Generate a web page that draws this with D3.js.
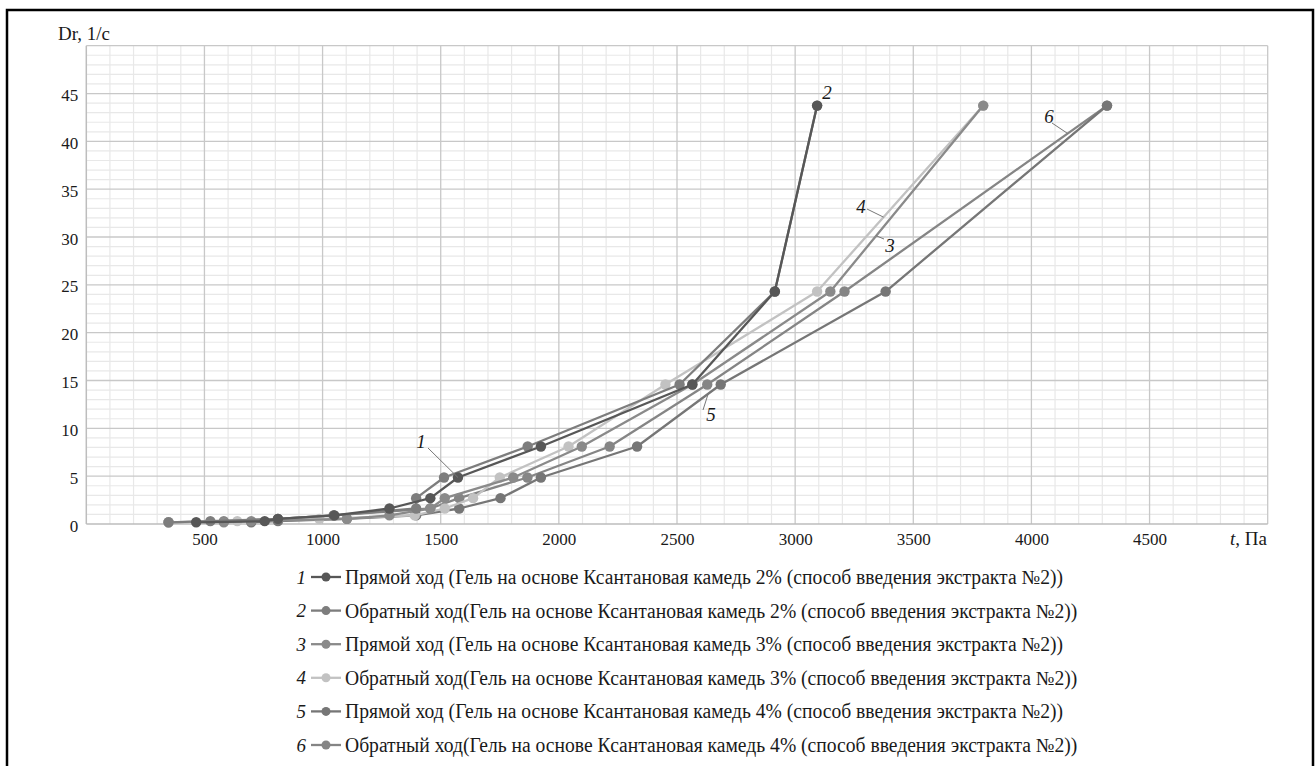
<!DOCTYPE html>
<html><head><meta charset="utf-8">
<script src="https://cdn.jsdelivr.net/npm/d3@7"></script>
<style>body{margin:0;background:#fff} svg{display:block} svg text{font-family:"Liberation Serif","Times New Roman",Times,serif}</style>
</head><body><svg id="c" width="1315" height="766"></svg>
<script>
// ---- data ----
const shearRates = [0.18, 0.3, 0.54, 0.9, 1.62, 2.7, 4.86, 8.1, 14.58, 24.3, 43.74];
const stress1 = [465, 755, 811, 1050, 1283, 1456, 1573, 1924, 2565, 2914, 3093];
const stress2 = [348, 525, 811, 1047, 1396, 1396, 1514, 1868, 2511, 2914, 3093];
const stress3 = [582, 698, 1103, 1283, 1456, 1517, 1807, 2097, 2565, 3149, 3796];
const stress4 = [348, 639, 986, 1390, 1517, 1637, 1750, 2041, 2451, 3093, 3796];
const stress5 = [698, 811, 1103, 1396, 1578, 1753, 1924, 2331, 2685, 3383, 4320];
const stress6 = [348, 582, 811, 1047, 1456, 1578, 1867, 2215, 2628, 3209, 4320];
const seriesNumbers = ["1", "2", "3", "4", "5", "6"];
const seriesNames = [
  "Прямой ход (Гель на основе Ксантановая камедь 2% (способ введения экстракта №2))",
  "Обратный ход(Гель на основе Ксантановая камедь 2% (способ введения экстракта №2))",
  "Прямой ход (Гель на основе Ксантановая камедь 3% (способ введения экстракта №2))",
  "Обратный ход(Гель на основе Ксантановая камедь 3% (способ введения экстракта №2))",
  "Прямой ход (Гель на основе Ксантановая камедь 4% (способ введения экстракта №2))",
  "Обратный ход(Гель на основе Ксантановая камедь 4% (способ введения экстракта №2))"
];
const xTickValues = [500, 1000, 1500, 2000, 2500, 3000, 3500, 4000, 4500];
const yTickValues = [0, 5, 10, 15, 20, 25, 30, 35, 40, 45];
const yAxisTitle = "Dr, 1/c";
const xAxisTitleItalic = "t";
const xAxisTitleRest = ", Па";

// ---- styles ----
const colors = ["#575757", "#7d7d7d", "#8a8a8a", "#c2c2c2", "#767676", "#858585"];
const drawOrder = [5, 4, 3, 2, 1, 0];
const FONT = 'Liberation Serif, Times New Roman, Times, serif';

const allStress = [stress1, stress2, stress3, stress4, stress5, stress6];
const series = allStress.map((arr, i) => ({
  num: seriesNumbers[i], name: seriesNames[i], color: colors[i],
  pts: arr.map((x, j) => ({x: x, y: shearRates[j]}))
}));

const svg = d3.select("#c").attr("font-family", FONT);

svg.append("rect").attr("x", 7).attr("y", 10).attr("width", 1306).attr("height", 800)
  .attr("fill", "none").attr("stroke", "#000").attr("stroke-width", 2.5);

const x = d3.scaleLinear().domain([0, 5000]).range([86.3, 1267.7]);
const y = d3.scaleLinear().domain([0, 50]).range([524, 45.7]);

const g = svg.append("g");
g.append("g").selectAll("line").data(d3.range(100, 5000, 100).filter(v => v % 500 !== 0))
  .join("line").attr("x1", d => x(d)).attr("x2", d => x(d)).attr("y1", y(0)).attr("y2", y(50))
  .attr("stroke", "#e8e8e8").attr("stroke-width", 1.2);
g.append("g").selectAll("line").data(d3.range(1, 50, 1).filter(v => v % 5 !== 0))
  .join("line").attr("y1", d => y(d)).attr("y2", d => y(d)).attr("x1", x(0)).attr("x2", x(5000))
  .attr("stroke", "#e8e8e8").attr("stroke-width", 1.2);
g.append("g").selectAll("line").data(d3.range(500, 5001, 500))
  .join("line").attr("x1", d => x(d)).attr("x2", d => x(d)).attr("y1", y(0)).attr("y2", y(50))
  .attr("stroke", "#c8c8c8").attr("stroke-width", 1.3);
g.append("g").selectAll("line").data(d3.range(5, 51, 5))
  .join("line").attr("y1", d => y(d)).attr("y2", d => y(d)).attr("x1", x(0)).attr("x2", x(5000))
  .attr("stroke", "#c8c8c8").attr("stroke-width", 1.3);
g.append("line").attr("x1", x(0)).attr("x2", x(0)).attr("y1", y(0)).attr("y2", y(50))
  .attr("stroke", "#bdbdbd").attr("stroke-width", 1.5);
g.append("line").attr("x1", x(0)).attr("x2", x(5000)).attr("y1", y(0)).attr("y2", y(0))
  .attr("stroke", "#bdbdbd").attr("stroke-width", 1.5);

const xAxis = d3.axisBottom(x).tickValues(xTickValues).tickSize(0).tickPadding(9).tickFormat(d3.format("d"));
const xg = svg.append("g").attr("transform", `translate(0,${y(0)})`).call(xAxis);
xg.attr("font-family", FONT).attr("font-size", 17);
xg.select(".domain").remove();
xg.selectAll("text").attr("fill", "#1a1a1a");

const yAxis = d3.axisLeft(y).tickValues(yTickValues).tickSize(0).tickPadding(8).tickFormat(d3.format("d"));
const yg = svg.append("g").attr("transform", `translate(${x(0)},0)`).call(yAxis);
yg.attr("font-family", FONT).attr("font-size", 17);
yg.select(".domain").remove();
yg.selectAll("text").attr("fill", "#1a1a1a").attr("dy", "0.42em");

svg.append("text").attr("x", 58).attr("y", 40).attr("font-size", 19)
  .attr("fill", "#1a1a1a").text(yAxisTitle);
const xt = svg.append("text").attr("x", 1230).attr("y", 545).attr("font-size", 19).attr("fill", "#1a1a1a");
xt.append("tspan").attr("font-style", "italic").text(xAxisTitleItalic);
xt.append("tspan").text(xAxisTitleRest);

const line = d3.line().x(d => x(d.x)).y(d => y(d.y));
const sg = svg.append("g");
drawOrder.forEach(i => {
  const s = series[i];
  sg.append("path").datum(s.pts).attr("d", line).attr("fill", "none")
    .attr("stroke", s.color).attr("stroke-width", 2.3).attr("stroke-linejoin", "round");
  sg.append("g").selectAll("circle").data(s.pts).join("circle")
    .attr("cx", d => x(d.x)).attr("cy", d => y(d.y)).attr("r", 5.2).attr("fill", s.color);
});

function lerpPt(s, j, t) {
  const a = series[s].pts[j], b = series[s].pts[j + 1];
  return [x(a.x) + (x(b.x) - x(a.x)) * t, y(a.y) + (y(b.y) - y(a.y)) * t];
}
const ann = [
  {s: 0, j: 6, t: 0, lx: 421, ly: 441, l1: [428, 448]},
  {s: 1, j: 9, t: 1, lx: 827, ly: 92, l1: null},
  {s: 3, j: 9, t: 0.4, lx: 861, ly: 206, l1: [867, 209]},
  {s: 2, j: 9, t: 0.3, lx: 890, ly: 245, l1: [884, 239]},
  {s: 4, j: 7, t: 0.85, lx: 711, ly: 414, l1: [703, 410]},
  {s: 5, j: 9, t: 0.85, lx: 1049, ly: 116, l1: [1052, 123]}
];
ann.forEach(a => {
  const p = lerpPt(a.s, a.j, a.t);
  if (a.l1) svg.append("line").attr("x1", a.l1[0]).attr("y1", a.l1[1]).attr("x2", p[0]).attr("y2", p[1])
    .attr("stroke", "#777").attr("stroke-width", 1);
  svg.append("text").attr("x", a.lx).attr("y", a.ly).attr("text-anchor", "middle").attr("dy", "0.35em")
    .attr("font-style", "italic").attr("font-size", 19).attr("fill", "#1a1a1a")
    .text(series[a.s].num);
});

const legendTop = 577, legendStep = 33.6, legendTextX = 345, legendTextEnd = 1063, legendFont = 20;
const lg = svg.append("g");
series.forEach((s, i) => {
  const yy = legendTop + i * legendStep;
  lg.append("text").attr("x", 306).attr("y", yy).attr("dy", "0.35em").attr("text-anchor", "end")
    .attr("font-style", "italic").attr("font-size", 19).attr("fill", "#1a1a1a").text(s.num);
  lg.append("line").attr("x1", 311).attr("x2", 341).attr("y1", yy).attr("y2", yy)
    .attr("stroke", s.color).attr("stroke-width", 2.3);
  lg.append("circle").attr("cx", 326).attr("cy", yy).attr("r", 4.5).attr("fill", s.color);
  lg.append("text").attr("class", "lt").attr("x", legendTextX).attr("y", yy).attr("dy", "0.35em")
    .attr("font-size", legendFont).attr("fill", "#1a1a1a").text(s.name);
});
// condense the glyphs horizontally so row 1 spans the measured width, like the reference
const lts = lg.selectAll("text.lt");
const k = (legendTextEnd - legendTextX) / lts.node().getComputedTextLength();
lts.each(function() {
  const w = this.getComputedTextLength();
  d3.select(this).attr("textLength", (w * k).toFixed(1)).attr("lengthAdjust", "spacingAndGlyphs");
});
</script></body></html>
